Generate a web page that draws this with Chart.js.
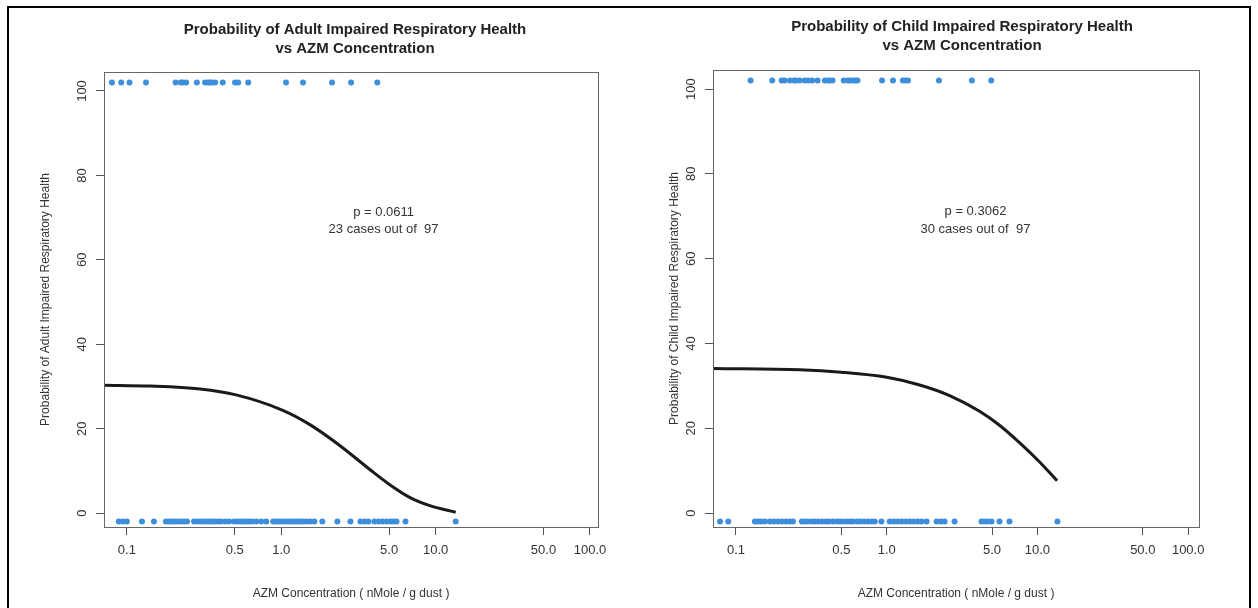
<!DOCTYPE html>
<html>
<head>
<meta charset="utf-8">
<script src="https://cdn.jsdelivr.net/npm/chart.js@4.4.0/dist/chart.umd.min.js"></script>
<style>
  html, body { margin: 0; padding: 0; background: #fff; }
  #wrap { position: relative; width: 1258px; height: 608px; overflow: hidden; }
  #frame { position: absolute; left: 7px; top: 6px; width: 1244px; height: 640px; border: 2px solid #000; box-sizing: border-box; }
  .panel { position: absolute; top: 0; width: 629px; height: 608px; }
</style>
</head>
<body>
<div id="wrap">
  <div id="frame"></div>
  <div class="panel" style="left:0"><canvas id="adultChart" width="629" height="608"></canvas></div>
  <div class="panel" style="left:629px"><canvas id="childChart" width="629" height="608"></canvas></div>
</div>
<script>
// axis ticks
const xTicks = [0.1, 0.5, 1, 5, 10, 50, 100];
const xTickLabels = ["0.1", "0.5", "1.0", "5.0", "10.0", "50.0", "100.0"];
const yTicks = [0, 20, 40, 60, 80, 100];

// observations (AZM concentration), cases plotted at top, non-cases at bottom
const caseY = 102;
const nonCaseY = -2;

const adultCaseX = [0.080, 0.092, 0.104, 0.133, 0.207, 0.224, 0.231, 0.242, 0.284, 0.321, 0.336, 0.345,
  0.355, 0.373, 0.418, 0.502, 0.526, 0.611, 1.074, 1.384, 2.135, 2.835, 4.19];
const adultNonCaseX = [0.0887, 0.0942, 0.100, 0.1252, 0.1497, 0.1791, 0.1874, 0.1960, 0.2050, 0.2144, 0.2242,
  0.2345, 0.2453, 0.2723, 0.2848, 0.2979, 0.3115, 0.3258, 0.3407, 0.3563, 0.3727, 0.3898, 0.4076, 0.4329,
  0.4596, 0.4953, 0.5180, 0.5417, 0.5665, 0.5925, 0.6196, 0.6480, 0.6880, 0.7414, 0.7991, 0.8873, 0.9279,
  0.9705, 1.015, 1.062, 1.110, 1.161, 1.214, 1.270, 1.328, 1.389, 1.453, 1.543, 1.638, 1.846, 2.310, 2.806,
  3.258, 3.459, 3.672, 4.017, 4.265, 4.528, 4.807, 5.103, 5.337, 5.582, 6.386, 13.49];

const childCaseX = [0.125, 0.174, 0.201, 0.210, 0.228, 0.243, 0.250, 0.265, 0.286, 0.301, 0.320, 0.348,
  0.389, 0.409, 0.420, 0.437, 0.519, 0.554, 0.570, 0.598, 0.620, 0.640, 0.931, 1.101, 1.282, 1.330, 1.384,
  2.220, 3.672, 4.936];
const childNonCaseX = [0.0784, 0.0889, 0.1336, 0.1399, 0.1465, 0.1557, 0.168, 0.1784, 0.1897, 0.2017, 0.2144,
  0.2280, 0.2387, 0.2736, 0.2864, 0.2999, 0.3188, 0.3337, 0.3493, 0.3712, 0.3945, 0.4131, 0.4388, 0.4665,
  0.4883, 0.5113, 0.5433, 0.5689, 0.5955, 0.6329, 0.6626, 0.7043, 0.7484, 0.792, 0.833, 0.922, 1.047, 1.113,
  1.183, 1.257, 1.336, 1.420, 1.509, 1.604, 1.705, 1.840, 2.144, 2.280, 2.423, 2.820, 4.257, 4.457, 4.665,
  4.958, 5.602, 6.525, 13.57];

// fitted probability curves
const adultCurveX = [0.0711, 0.141, 0.298, 0.510, 1.015, 1.543, 2.416, 3.784, 5.103, 6.880, 9.279, 13.49];
const adultCurveY = [30.3, 30.1, 29.4, 28.0, 24.4, 20.9, 15.9, 10.2, 6.6, 3.6, 1.7, 0.2];
const childCurveX = [0.0704, 0.265, 0.5, 1.0, 1.654, 2.614, 4.13, 5.60, 7.60, 10.3, 13.5];
const childCurveY = [34.1, 33.8, 33.2, 32.0, 30.2, 27.7, 24.0, 20.7, 16.6, 12.1, 7.6];

const FONT = '"Liberation Sans", Arial, sans-serif';
const DOT = '#3d8fdc';

// box, titles and the p-value note
const panelText = {
  id: 'panelText',
  afterDraw(chart, args, opts) {
    const ctx = chart.ctx;
    const a = chart.chartArea;
    ctx.save();
    ctx.strokeStyle = '#666';
    ctx.lineWidth = 1;
    ctx.strokeRect(a.left + 0.5, a.top + 0.5, a.right - a.left, a.bottom - a.top);
    ctx.fillStyle = '#222';
    ctx.textAlign = 'center';
    ctx.textBaseline = 'middle';
    ctx.font = 'bold 15px ' + FONT;
    opts.title.forEach((t, i) => ctx.fillText(t, opts.titleX, opts.titleY + i * 19));
    ctx.fillStyle = '#333';
    ctx.font = '13px ' + FONT;
    const px = chart.scales.x.getPixelForValue(opts.noteAt[0]);
    const py = chart.scales.y.getPixelForValue(opts.noteAt[1]);
    opts.note.forEach((t, i) => ctx.fillText(t, px, py + i * 17.5));
    ctx.restore();
  }
};

function makeChart(id, cfg) {
  const pts = (xs, y) => xs.map(x => ({ x, y }));
  return new Chart(document.getElementById(id), {
    type: 'scatter',
    data: {
      datasets: [
        { data: pts(cfg.caseX, caseY), backgroundColor: DOT, borderWidth: 0, pointRadius: 3 },
        { data: pts(cfg.nonCaseX, nonCaseY), backgroundColor: DOT, borderWidth: 0, pointRadius: 3 },
        {
          data: cfg.curveX.map((x, i) => ({ x, y: cfg.curveY[i] })),
          showLine: true, borderColor: '#1a1a1a', borderWidth: 3, pointRadius: 0,
          cubicInterpolationMode: 'monotone'
        }
      ]
    },
    options: {
      responsive: false,
      animation: false,
      layout: { padding: { left: 0, top: cfg.top, right: cfg.right, bottom: 0 } },
      plugins: {
        legend: { display: false },
        tooltip: { enabled: false },
        panelText: { title: cfg.title, titleX: cfg.titleX, titleY: cfg.titleY, note: cfg.note, noteAt: cfg.noteAt }
      },
      scales: {
        x: {
          type: 'logarithmic',
          min: cfg.xMin, max: cfg.xMax,
          afterBuildTicks: s => { s.ticks = xTicks.map(v => ({ value: v })); },
          afterFit: s => { s.height = 608 - cfg.bottom; },
          ticks: {
            autoSkip: false, maxRotation: 0, padding: 8, color: '#333',
            font: { family: FONT, size: 13 },
            callback: (v, i) => xTickLabels[i]
          },
          grid: { drawOnChartArea: false, tickLength: 8, color: '#555' },
          border: { display: false },
          title: {
            display: true, text: 'AZM Concentration ( nMole / g dust )', color: '#333',
            font: { family: FONT, size: 12 }, padding: { top: 0, bottom: 7 }
          }
        },
        y: {
          min: -3.3, max: 104.5,
          afterBuildTicks: s => { s.ticks = yTicks.map(v => ({ value: v })); },
          afterFit: s => { s.width = cfg.left; },
          ticks: {
            minRotation: 90, maxRotation: 90, crossAlign: 'center', padding: 3, color: '#333',
            font: { family: FONT, size: 13 }
          },
          grid: { drawOnChartArea: false, tickLength: 8, color: '#555' },
          border: { display: false },
          title: {
            display: true, text: cfg.yTitle, color: '#333',
            font: { family: FONT, size: 12 }, padding: { top: 38, bottom: 0 }
          }
        }
      }
    },
    plugins: [panelText]
  });
}

makeChart('adultChart', {
  caseX: adultCaseX, nonCaseX: adultNonCaseX, curveX: adultCurveX, curveY: adultCurveY,
  left: 104, right: 31, top: 72, bottom: 527, xMin: 0.0711, xMax: 112.7,
  title: ['Probability of Adult Impaired Respiratory Health', 'vs AZM Concentration'],
  titleX: 355, titleY: 30,
  yTitle: 'Probability of Adult Impaired Respiratory Health',
  note: ['p = 0.0611', '23 cases out of  97'], noteAt: [4.6, 71.3]
});

makeChart('childChart', {
  caseX: childCaseX, nonCaseX: childNonCaseX, curveX: childCurveX, curveY: childCurveY,
  left: 84, right: 59, top: 70, bottom: 527, xMin: 0.0704, xMax: 118,
  title: ['Probability of Child Impaired Respiratory Health', 'vs AZM Concentration'],
  titleX: 333, titleY: 27,
  yTitle: 'Probability of Child Impaired Respiratory Health',
  note: ['p = 0.3062', '30 cases out of  97'], noteAt: [3.88, 71.1]
});
</script>
</body>
</html>
